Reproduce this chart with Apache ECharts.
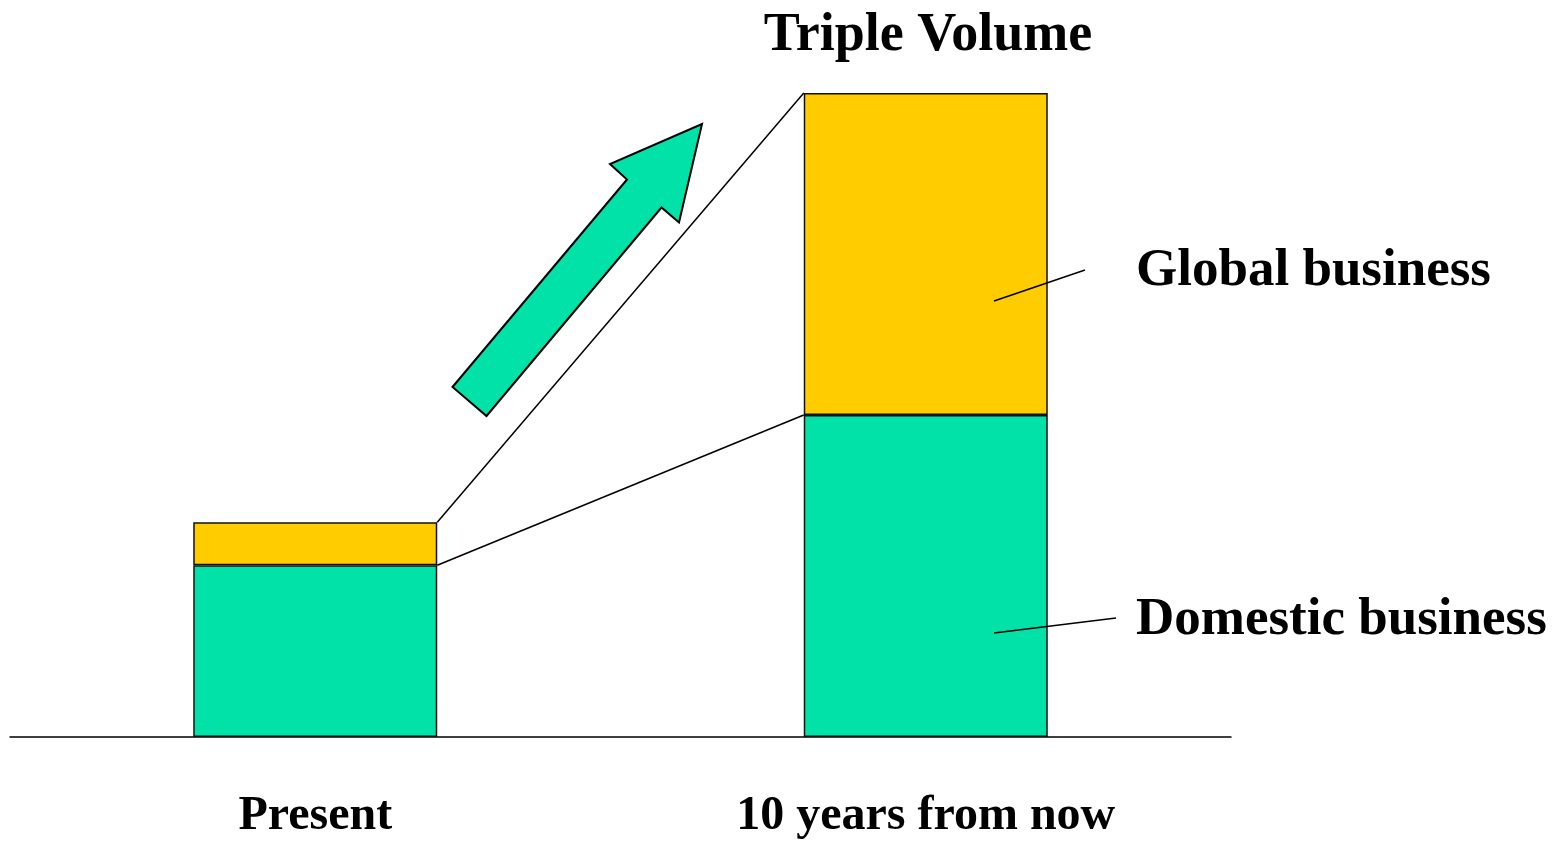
<!DOCTYPE html>
<html>
<head>
<meta charset="utf-8">
<title>Triple Volume</title>
<script src="https://cdn.jsdelivr.net/npm/echarts@6/dist/echarts.min.js"></script>
<style>
  html, body { margin: 0; padding: 0; background: #ffffff; }
  #chart { width: 1554px; height: 841px; }
</style>
</head>
<body>
<div id="chart"></div>
<script>
// Business volume, present vs. ten years out (present total = 1)
const categories = ['Present', '10 years from now'];
const domestic = [0.8, 1.5];
const globalBiz = [0.2, 1.5];
const seriesNames = ['Domestic business', 'Global business'];
const titleText = 'Triple Volume';

const GREEN = '#00E2A8';
const YELLOW = '#FFCC00';
const FONT = '"Liberation Serif", "Times New Roman", serif';
const BAR_W = 244;

const totals = domestic.map((d, i) => d + globalBiz[i]);

// connector segments: [fromCat, fromValue, toCat, toValue]
const connectors = [
  [0, totals[0], 1, totals[1]],
  [0, domestic[0], 1, domestic[1]]
];

const chart = echarts.init(document.getElementById('chart'), null, { renderer: 'canvas' });

const option = {
  animation: false,
  backgroundColor: '#ffffff',
  grid: {
    left: 10, right: 323, top: 93, bottom: 104,
    containLabel: false,
    outerBoundsMode: 'none'
  },
  xAxis: {
    type: 'category',
    data: categories,
    axisLine: { show: true, lineStyle: { color: '#000', width: 1.5 } },
    axisTick: { show: false },
    axisLabel: {
      margin: 56,
      color: '#000',
      fontFamily: FONT,
      fontWeight: 'bold',
      fontSize: 48
    }
  },
  yAxis: {
    type: 'value',
    min: 0,
    max: 3,
    show: false,
    splitLine: { show: false }
  },
  series: [
    {
      name: seriesNames[0],
      type: 'bar',
      stack: 'vol',
      barWidth: BAR_W,
      data: domestic,
      itemStyle: { color: GREEN, borderColor: '#111', borderWidth: 1.5 }
    },
    {
      name: seriesNames[1],
      type: 'bar',
      stack: 'vol',
      barWidth: BAR_W,
      data: globalBiz,
      itemStyle: { color: YELLOW, borderColor: '#111', borderWidth: 1.5 }
    },
    {
      type: 'custom',
      data: connectors,
      silent: true,
      z: 3,
      renderItem: function (params, api) {
        const a = api.coord([api.value(0), api.value(1)]);
        const b = api.coord([api.value(2), api.value(3)]);
        return {
          type: 'line',
          shape: { x1: a[0] + BAR_W / 2, y1: a[1], x2: b[0] - BAR_W / 2, y2: b[1] },
          style: { stroke: '#000', lineWidth: 1.5 }
        };
      }
    }
  ],
  graphic: {
    elements: [
      {
        type: 'text',
        x: 928, y: 36, z: 100,
        style: {
          text: titleText, fill: '#000', font: 'bold 54px ' + FONT,
          textAlign: 'center', textVerticalAlign: 'middle'
        }
      },
      {
        type: 'text',
        x: 1136, y: 271, z: 100,
        style: {
          text: seriesNames[1], fill: '#000', font: 'bold 53px ' + FONT,
          textAlign: 'left', textVerticalAlign: 'middle'
        }
      },
      {
        type: 'text',
        x: 1136, y: 620, z: 100,
        style: {
          text: seriesNames[0], fill: '#000', font: 'bold 53px ' + FONT,
          textAlign: 'left', textVerticalAlign: 'middle'
        }
      },
      {
        type: 'line', z: 100,
        shape: { x1: 994, y1: 301, x2: 1085, y2: 270 },
        style: { stroke: '#000', lineWidth: 1.5 }
      },
      {
        type: 'line', z: 100,
        shape: { x1: 994, y1: 633, x2: 1116, y2: 618 },
        style: { stroke: '#000', lineWidth: 1.5 }
      },
      {
        // growth arrow
        type: 'polygon', z: 100,
        shape: {
          points: [
            [702, 124], [679, 222.5], [661.5, 207.5], [486.5, 416],
            [452.5, 387], [627, 179.5], [610, 164]
          ]
        },
        style: { fill: GREEN, stroke: '#000', lineWidth: 2, lineJoin: 'miter' }
      }
    ]
  }
};

chart.setOption(option);
</script>
</body>
</html>
